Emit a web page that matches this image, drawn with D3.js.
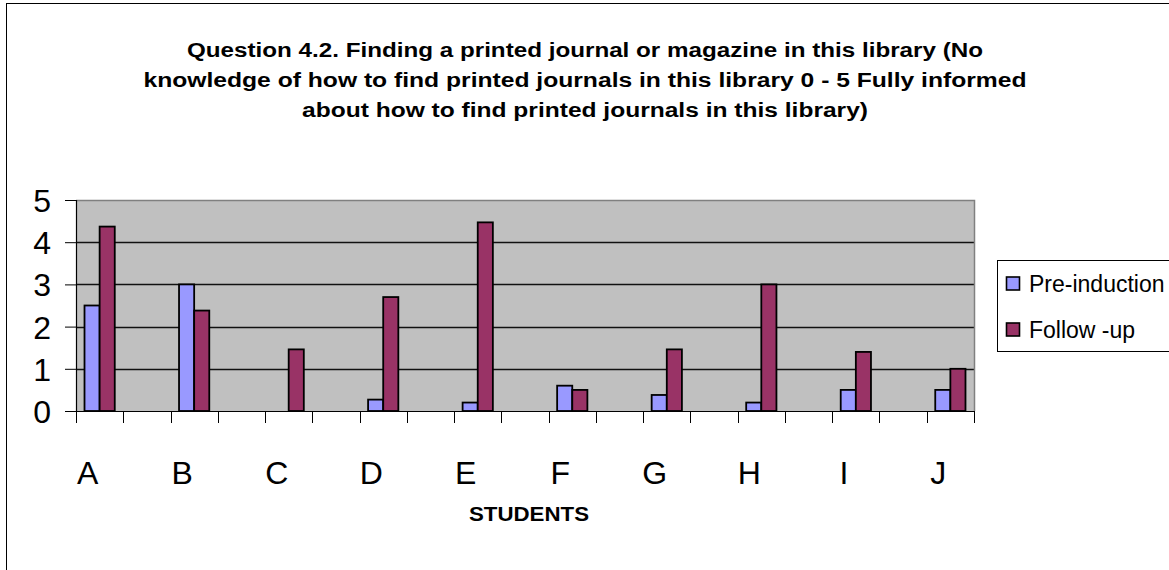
<!DOCTYPE html>
<html>
<head>
<meta charset="utf-8">
<script src="https://cdn.jsdelivr.net/npm/d3@7"></script>
<style>
  html, body { margin: 0; padding: 0; background: #fff; }
  svg { display: block; font-family: Arial, "Liberation Sans", sans-serif; }
</style>
</head>
<body>
<svg id="chart" width="1169" height="570"></svg>
<script>
// Category slots: each student letter followed by an empty spacer slot
const categories = ["A", "", "B", "", "C", "", "D", "", "E", "", "F", "", "G", "", "H", "", "I", "", "J"];
const students = ["A", "B", "C", "D", "E", "F", "G", "H", "I", "J"];
const seriesNames = ["Pre-induction", "Follow -up"];
const preInduction = [2.5, 3.0, 0, 0.27, 0.2, 0.6, 0.38, 0.2, 0.5, 0.5];
const followUp = [4.37, 2.38, 1.46, 2.7, 4.47, 0.5, 1.46, 3.0, 1.4, 1.0];
const yTicks = [0, 1, 2, 3, 4, 5];
const titleLines = [
  "Question 4.2. Finding a printed journal or magazine in this library (No",
  "knowledge of how to find printed journals in this library 0 - 5 Fully informed",
  "about how to find printed journals in this library)"
];
const titleWidths = [796, 883, 566];
const xTitle = "STUDENTS";
const colors = ["#9999FF", "#993366"];

const svg = d3.select("#chart");

// Outer chart frame
svg.append("rect")
  .attr("x", 6.5).attr("y", 3.5)
  .attr("width", 1200).attr("height", 600)
  .attr("fill", "#fff").attr("stroke", "#000").attr("stroke-width", 1);

// Title, three centred lines
titleLines.forEach((t, i) => {
  svg.append("text")
    .attr("x", 585).attr("y", 57 + i * 30)
    .attr("text-anchor", "middle")
    .attr("font-weight", "bold")
    .attr("font-size", 20)
    .attr("textLength", titleWidths[i])
    .attr("lengthAdjust", "spacingAndGlyphs")
    .text(t);
});

const plot = { left: 76, top: 200, right: 974, bottom: 411 };

const x0 = d3.scaleBand().domain(d3.range(categories.length))
  .range([plot.left, plot.right]).padding(0);
const bw = x0.bandwidth();
const x1 = d3.scaleBand().domain([0, 1])
  .range([bw * 0.18, bw * 0.82]).padding(0);
const y = d3.scaleLinear().domain([0, 5]).range([plot.bottom, plot.top]);

// Plot background
svg.append("rect")
  .attr("x", plot.left).attr("y", plot.top)
  .attr("width", plot.right - plot.left).attr("height", plot.bottom - plot.top)
  .attr("fill", "#C0C0C0");

// Gridlines
svg.append("g")
  .selectAll("line")
  .data(yTicks.filter(d => d > 0 && d < 5))
  .join("line")
  .attr("x1", plot.left).attr("x2", plot.right)
  .attr("y1", d => Math.round(y(d)) + 0.5).attr("y2", d => Math.round(y(d)) + 0.5)
  .attr("stroke", "#111").attr("stroke-width", 1.3);

// Plot border (top and right)
svg.append("path")
  .attr("d", `M${plot.left},${plot.top + 0.5}H${plot.right + 0.5}V${plot.bottom}`)
  .attr("fill", "none").attr("stroke", "#808080").attr("stroke-width", 1.5);

// Bars
const rows = students.map((s, i) => ({ idx: i * 2, vals: [preInduction[i], followUp[i]] }));
const groups = svg.append("g").selectAll("g")
  .data(rows)
  .join("g")
  .attr("transform", d => `translate(${x0(d.idx)},0)`);
groups.selectAll("rect")
  .data(d => d.vals.map((v, k) => ({ v, k })).filter(e => e.v > 0))
  .join("rect")
  .attr("x", e => x1(e.k))
  .attr("y", e => y(e.v))
  .attr("width", x1.bandwidth())
  .attr("height", e => y(0) - y(e.v))
  .attr("fill", e => colors[e.k])
  .attr("stroke", "#000")
  .attr("stroke-width", 1.8);

// Y axis
const yAxis = d3.axisLeft(y).tickValues(yTicks).tickSize(11).tickPadding(14)
  .tickFormat(d3.format("d"));
const gy = svg.append("g").attr("transform", `translate(${plot.left},0)`).call(yAxis);
gy.select(".domain").attr("stroke", "#000").attr("stroke-width", 1.2);
gy.selectAll(".tick line").attr("stroke", "#000");
gy.selectAll(".tick text")
  .attr("font-size", 32).attr("font-family", "Arial, 'Liberation Sans', sans-serif")
  .attr("fill", "#000").attr("dy", "0.36em");

// X axis: ticks at slot boundaries
const xEdges = d3.range(categories.length + 1).map(i => plot.left + i * bw);
const gx = svg.append("g");
gx.append("line")
  .attr("x1", plot.left).attr("x2", plot.right)
  .attr("y1", plot.bottom + 0.5).attr("y2", plot.bottom + 0.5)
  .attr("stroke", "#000").attr("stroke-width", 1.2);
gx.selectAll("line.tk")
  .data(xEdges)
  .join("line").attr("class", "tk")
  .attr("x1", d => Math.round(d) + 0.5).attr("x2", d => Math.round(d) + 0.5)
  .attr("y1", plot.bottom).attr("y2", plot.bottom + 12)
  .attr("stroke", "#000");
gx.selectAll("text")
  .data(categories.map((c, i) => ({ c, i })).filter(d => d.c !== ""))
  .join("text")
  .attr("x", d => x0(d.i) + bw / 2 - 12)
  .attr("y", 484)
  .attr("text-anchor", "middle")
  .attr("font-size", 32)
  .text(d => d.c);

// X axis title
svg.append("text")
  .attr("x", 529).attr("y", 521)
  .attr("text-anchor", "middle")
  .attr("font-weight", "bold")
  .attr("font-size", 20)
  .attr("textLength", 120)
  .attr("lengthAdjust", "spacingAndGlyphs")
  .text(xTitle);

// Legend
const lg = svg.append("g");
lg.append("rect")
  .attr("x", 997.5).attr("y", 260.5)
  .attr("width", 200).attr("height", 91)
  .attr("fill", "#fff").attr("stroke", "#000").attr("stroke-width", 1);
seriesNames.forEach((name, i) => {
  const cy = 284 + i * 46;
  lg.append("rect")
    .attr("x", 1006.5).attr("y", cy - 7)
    .attr("width", 13).attr("height", 13)
    .attr("fill", colors[i]).attr("stroke", "#000").attr("stroke-width", 1.6);
  lg.append("text")
    .attr("x", 1029).attr("y", cy)
    .attr("dy", "0.36em")
    .attr("font-size", 23)
    .text(name);
});
</script>
</body>
</html>
